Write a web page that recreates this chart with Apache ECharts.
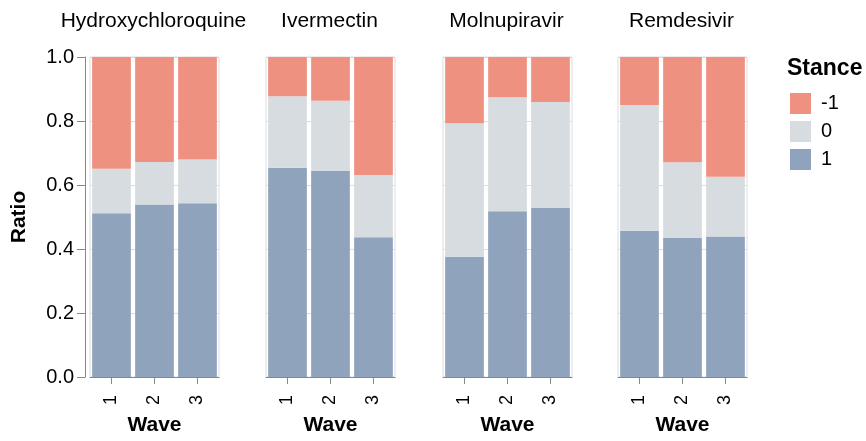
<!DOCTYPE html>
<html>
<head>
<meta charset="utf-8">
<script src="https://cdn.jsdelivr.net/npm/echarts@6/dist/echarts.min.js"></script>
<style>
html,body{margin:0;padding:0;background:#fff;}
#chart{width:866px;height:441px;}
</style>
</head>
<body>
<div id="chart"></div>
<script>
// Data
const drugs = ['Hydroxychloroquine', 'Ivermectin', 'Molnupiravir', 'Remdesivir'];
const waves = ['1', '2', '3'];
const yTicks = [0, 0.2, 0.4, 0.6, 0.8, 1.0];
// Stance 1 (supportive) ratios per drug per wave
const ratioPos = [
  [0.512, 0.539, 0.543],
  [0.654, 0.644, 0.437],
  [0.376, 0.518, 0.528],
  [0.457, 0.434, 0.439]
];
// Stance 0 (neutral)
const ratioNeutral = [
  [0.139, 0.133, 0.137],
  [0.223, 0.219, 0.194],
  [0.417, 0.356, 0.331],
  [0.393, 0.237, 0.187]
];
// Stance -1 (against)
const ratioNeg = [
  [0.349, 0.328, 0.320],
  [0.123, 0.137, 0.369],
  [0.207, 0.126, 0.141],
  [0.150, 0.329, 0.374]
];

const FONT = "'Liberation Sans', Arial, Helvetica, sans-serif";
const colors = { '-1': '#EF9181', '0': '#D6DCE0', '1': '#8FA3BD' };
const panelLeft = [90, 266, 443, 618];
const panelWidth = 129;
const panelTop = 57;
const panelHeight = 322;

const grids = [], xAxes = [], yAxes = [], series = [], titles = [];
drugs.forEach((d, i) => {
  grids.push({
    left: panelLeft[i], top: panelTop, width: panelWidth, height: panelHeight,
    show: true, borderColor: '#dddddd', borderWidth: 1, backgroundColor: 'transparent'
  });
  xAxes.push({
    type: 'category', gridIndex: i, data: waves,
    offset: 3,
    name: 'Wave', nameLocation: 'middle', nameGap: 35,
    nameTextStyle: { fontFamily: FONT, fontSize: 21, fontWeight: 'bold', color: '#000' },
    axisLine: { show: true, lineStyle: { color: '#888888', width: 1 } },
    axisTick: { show: true, alignWithLabel: true, length: 7, lineStyle: { color: '#888888' } },
    axisLabel: { rotate: 90, fontFamily: FONT, fontSize: 18, color: '#000', margin: 15 },
    splitLine: { show: false }
  });
  yAxes.push({
    type: 'value', gridIndex: i, min: 0, max: 1, interval: 0.2,
    offset: i === 0 ? 5 : 0,
    name: i === 0 ? 'Ratio' : '', nameLocation: 'middle', nameGap: 55, nameRotate: 90,
    nameTextStyle: { fontFamily: FONT, fontSize: 21, fontWeight: 'bold', color: '#000' },
    axisLine: { show: i === 0, lineStyle: { color: '#888888' } },
    axisTick: { show: i === 0, length: 8, lineStyle: { color: '#888888' } },
    axisLabel: {
      show: i === 0, fontFamily: FONT, fontSize: 20, color: '#000', margin: 11,
      formatter: v => yTicks.includes(Math.round(v * 10) / 10) ? v.toFixed(1) : ''
    },
    splitLine: { show: true, lineStyle: { color: '#dddddd', width: 1 } }
  });
  const common = { type: 'bar', stack: 'g' + i, xAxisIndex: i, yAxisIndex: i, barCategoryGap: '10%', emphasis: { disabled: true } };
  series.push(Object.assign({ name: '1', data: ratioPos[i], itemStyle: { color: colors['1'] } }, common));
  series.push(Object.assign({ name: '0', data: ratioNeutral[i], itemStyle: { color: colors['0'] } }, common));
  series.push(Object.assign({ name: '-1', data: ratioNeg[i], itemStyle: { color: colors['-1'] } }, common));
  titles.push({
    text: d, left: panelLeft[i] + panelWidth / 2 - 1, top: 11, textAlign: 'center', padding: 0,
    textStyle: { fontFamily: FONT, fontSize: 21, fontWeight: 'normal', color: '#000' }
  });
});
titles.push({
  text: 'Stance', left: 787, top: 57, padding: 0,
  textStyle: { fontFamily: FONT, fontSize: 23, fontWeight: 'bold', color: '#000' }
});

const chart = echarts.init(document.getElementById('chart'), null, { renderer: 'canvas' });
chart.setOption({
  animation: false,
  backgroundColor: '#ffffff',
  title: titles,
  legend: {
    data: ['-1', '0', '1'],
    orient: 'vertical', left: 790, top: 93, padding: 0,
    itemWidth: 21, itemHeight: 21, itemGap: 7,
    icon: 'rect', selectedMode: false,
    textStyle: { fontFamily: FONT, fontSize: 20, color: '#000', padding: [0, 0, 0, 5] }
  },
  grid: grids,
  xAxis: xAxes,
  yAxis: yAxes,
  series: series
});
</script>
</body>
</html>
